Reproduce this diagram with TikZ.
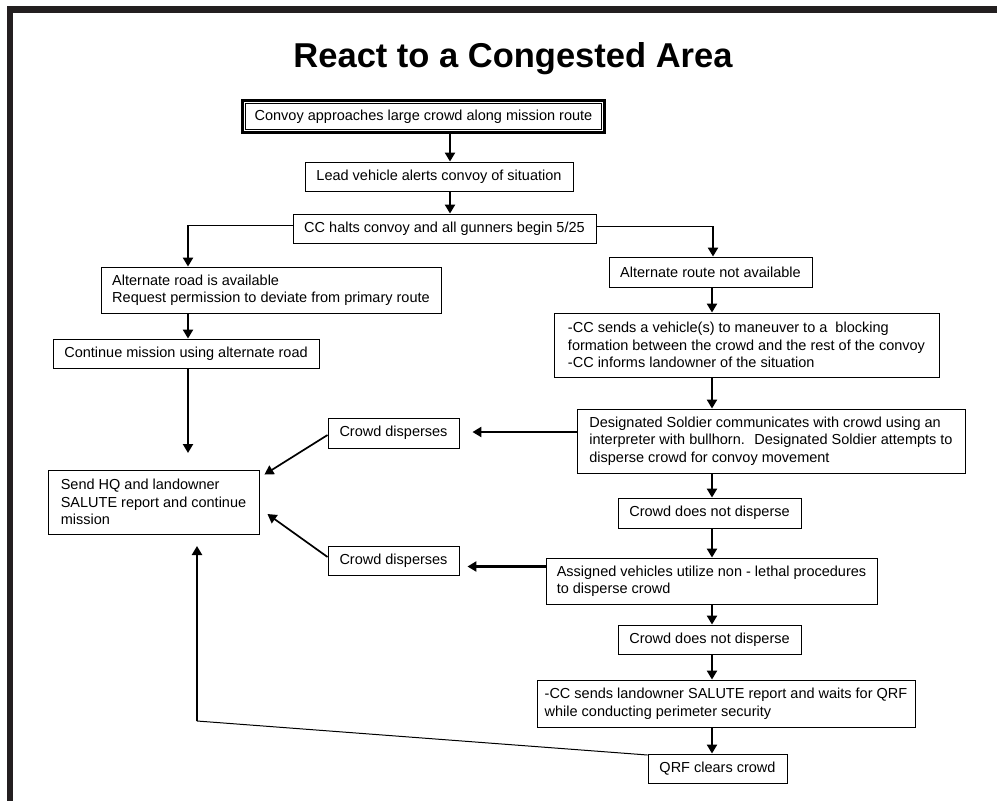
\documentclass[tikz,border=0pt]{standalone}
\usepackage{fontspec}
\setmainfont{Liberation Sans}
\usetikzlibrary{arrows.meta}
\newcommand\BoxFont{\fontsize{14.5}{17.5}\selectfont}
\newcommand\TitleFont{\fontsize{34.5}{40}\selectfont\bfseries}
\definecolor{framecol}{HTML}{231F20}
\tikzset{
  box/.style={draw=black, line width=0.9pt, fill=white, inner sep=0pt, align=left, font=\BoxFont},
  arr/.style={line width=2.3pt, -{Triangle[length=9pt,width=10pt]}},
  darr/.style={line width=1.7pt, -{Triangle[length=9pt,width=10pt]}},
  thinline/.style={line width=1pt},
}
\begin{document}
\begin{tikzpicture}[x=1pt,y=-1pt]
\useasboundingbox (0,0) rectangle (997,801);
% frame
\draw[line width=6.5pt, color=framecol] (10,801) -- (10,9.5) -- (997,9.5);
% title
\node[font=\TitleFont, anchor=base, inner sep=0pt] (title) at (513,67) {React to a Congested Area};
% boxes
\node[box, minimum width=356pt, minimum height=26pt] (b1) at (423.5,116.5) {Convoy approaches large crowd along mission route};
\draw[line width=3pt] ([shift={(-3pt,3pt)}]b1.north west) rectangle ([shift={(3pt,-3pt)}]b1.south east);
\node[box, minimum width=268pt, minimum height=29pt] (b2) at (439,176.5) {Lead vehicle alerts convoy of situation};
\node[box, minimum width=303pt, minimum height=29pt] (b3) at (444.5,228.5) {CC halts convoy and all gunners begin 5/25};
\node[box, minimum width=340pt, minimum height=46pt] (b4) at (271,290) {Alternate road is available\\Request permission to deviate from primary route};
\node[box, minimum width=266pt, minimum height=29pt] (b5) at (186,353.5) {Continue mission using alternate road};
\node[box, minimum width=203pt, minimum height=30pt] (b6) at (710.5,272) {Alternate route not available};
\node[box, minimum width=385pt, minimum height=64pt] (b7) at (746.5,345) {-CC sends a vehicle(s) to maneuver to a~ blocking\\formation between the crowd and the rest of the convoy\\-CC informs landowner of the situation};
\node[box, minimum width=388pt, minimum height=64pt] (b8) at (771,441) {Designated Soldier communicates with crowd using an\\interpreter with bullhorn.~ Designated Soldier attempts to\\disperse crowd for convoy movement};
\node[box, minimum width=183pt, minimum height=30pt] (b9) at (709.5,513) {Crowd does not disperse};
\node[box, minimum width=331pt, minimum height=46pt] (b10) at (711.5,581) {Assigned vehicles utilize non - lethal procedures\\to disperse crowd};
\node[box, minimum width=183pt, minimum height=29pt] (b11) at (709.5,639.5) {Crowd does not disperse};
\node[box, minimum width=378pt, minimum height=47pt] (b12) at (726,703.5) {-CC sends landowner SALUTE report and waits for QRF\\while conducting perimeter security};
\node[box, minimum width=139pt, minimum height=29pt] (b13) at (717.5,768.5) {QRF clears crowd};
\node[box, minimum width=211pt, minimum height=64pt] (b14) at (153.5,502) {Send HQ and landowner\\SALUTE report and continue\\mission};
\node[box, minimum width=131pt, minimum height=30pt] (b15) at (393.5,433) {Crowd disperses};
\node[box, minimum width=131pt, minimum height=29pt] (b16) at (393.5,560.5) {Crowd disperses};
% helper coordinates
\coordinate (cA) at (450,0);
\coordinate (cR) at (712,0);
\coordinate (cL) at (188,0);
\coordinate (kL) at (188,225);
\coordinate (kR) at (713,226);
\coordinate (e1) at (188,453);
\coordinate (kQ) at (197,721);
\coordinate (eQ) at (197,546);
\coordinate (s8) at ([yshift=9pt]b8.west);
\coordinate (t15) at ([xshift=13pt]b15.east |- s8);
\coordinate (s10) at ([yshift=14.5pt]b10.west);
\coordinate (t16) at ([xshift=8pt]b16.east |- s10);
% connectors
\draw[arr] (b1.south -| cA) ++(0,-3pt) -- (b2.north -| cA);
\draw[arr] (b2.south -| cA) -- (b3.north -| cA);
\draw[thinline] ([yshift=3.5pt]b3.west) -- (kL);
\draw[arr] (kL) -- (b4.north -| kL);
\draw[thinline] ([yshift=2.5pt]b3.east) -- (kR);
\draw[arr] (kR) -- (b6.north -| kR);
\draw[arr] (b4.south -| cL) -- (b5.north -| cL);
\draw[arr] (b5.south -| cL) -- (e1);
\draw[arr] (b6.south -| cR) -- (b7.north -| cR);
\draw[arr] (b7.south -| cR) -- (b8.north -| cR);
\draw[arr] (b8.south -| cR) -- (b9.north -| cR);
\draw[arr] (b9.south -| cR) -- (b10.north -| cR);
\draw[arr] (b10.south -| cR) -- (b11.north -| cR);
\draw[arr] (b11.south -| cR) -- (b12.north -| cR);
\draw[arr] (b12.south -| cR) -- (b13.north -| cR);
\draw[arr] (s8) -- (t15);
\draw[darr] ([yshift=-2pt]b15.west) -- ([shift={(5pt,-5pt)}]b14.north east);
\draw[arr] (s10) -- (t16);
\draw[darr] ([yshift=3.5pt]b16.west) -- ([shift={(8pt,-12pt)}]b14.east);
\draw[thinline] ([yshift=13.5pt]b13.west) -- (kQ);
\draw[arr] (kQ) -- (eQ);
\end{tikzpicture}
\end{document}
